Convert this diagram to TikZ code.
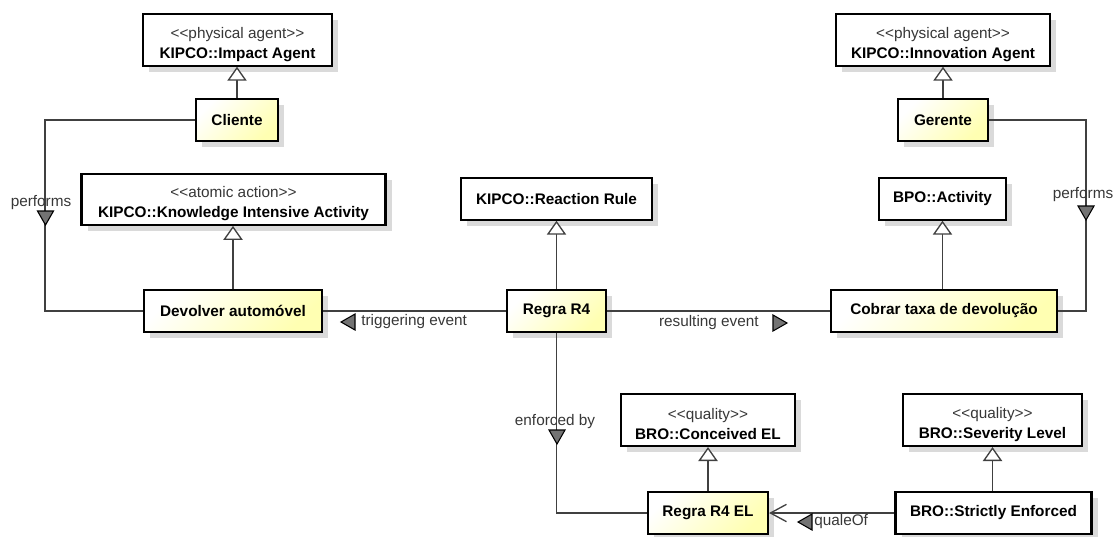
\documentclass[tikz,border=0pt]{standalone}
\usepackage{fontspec}
\setmainfont{Liberation Sans}
\usepackage{tikz}
\usetikzlibrary{arrows.meta,positioning,calc,shadows}
\definecolor{inscolor}{RGB}{255,255,178}
\definecolor{lncolor}{RGB}{64,64,64}
\definecolor{stcolor}{RGB}{55,55,55}
\definecolor{shdcolor}{RGB}{218,218,218}
\tikzset{
  boxsh/.style={drop shadow={shadow xshift=4.5pt, shadow yshift=-4.5pt, fill=shdcolor, opacity=1}},
  clsbox/.style={draw=black, line width=1.6pt, fill=white, boxsh, align=center, inner sep=2pt,
    font=\fontsize{11.5}{15}\selectfont\bfseries},
  insbox/.style={clsbox, top color=white, bottom color=inscolor, shading angle=45},
  genln/.style={-{Triangle[length=10.5pt,width=14.5pt,fill=white]}, line width=1pt, draw=lncolor},
  assocln/.style={line width=1pt, draw=lncolor},
  qualeln/.style={assocln, -{Straight Barb[length=12pt,width=13pt]}},
  lbl/.style={text=stcolor, inner sep=0pt, font=\fontsize{11.5}{14}\selectfont},
  markfill/.style={fill=black!55, draw=black, line width=0.8pt},
}
\newcommand{\stereo}[1]{\rule{0pt}{14.5pt}{\mdseries\color{stcolor}<{}<#1>{}>}}
\newcommand{\dirmark}[2]{%
  \filldraw[markfill, shift={(#2)}, rotate=#1] (7,0) -- (-7,-8) -- (-7,8) -- cycle;
}

\begin{document}
\begin{tikzpicture}[x=0.75pt, y=-0.75pt]
    \useasboundingbox (0,0) rectangle (1116,536);
    % left column
    \node[clsbox, minimum width=141.5pt, minimum height=38.5pt] (impact) at (237.5,40)
      {\stereo{physical agent}\\KIPCO::Impact Agent};
    \node[insbox, minimum width=61pt, minimum height=31pt] (cliente) at (237,120) {Cliente};
    \node[clsbox, minimum width=228pt, minimum height=38pt] (kia) at (233.5,199.5)
      {\stereo{atomic action}\\KIPCO::Knowledge Intensive Activity};
    \node[insbox, minimum width=133pt, minimum height=31pt] (devolver) at (233,311) {Devolver automóvel};
    % middle column
    \node[clsbox, minimum width=143pt, minimum height=31pt] (reaction) at (556.5,199) {KIPCO::Reaction Rule};
    \node[insbox, minimum width=74pt, minimum height=31pt] (regra) at (556.5,311) {Regra R4};
    % right column
    \node[clsbox, minimum width=160pt, minimum height=38.5pt] (innov) at (943,40)
      {\stereo{physical agent}\\KIPCO::Innovation Agent};
    \node[insbox, minimum width=67pt, minimum height=31pt] (gerente) at (943,120) {Gerente};
    \node[clsbox, minimum width=95pt, minimum height=31pt] (activity) at (942.5,199) {BPO::Activity};
    \node[insbox, minimum width=169pt, minimum height=31pt] (cobrar) at (944,311) {Cobrar taxa de devolução};
    % enforcement level
    \node[clsbox, minimum width=130pt, minimum height=39pt] (conceived) at (708,420)
      {\stereo{quality}\\BRO::Conceived EL};
    \node[clsbox, minimum width=134pt, minimum height=39pt] (severity) at (992.5,420)
      {\stereo{quality}\\BRO::Severity Level};
    \node[insbox, minimum width=90pt, minimum height=31pt] (r4el) at (708,513) {Regra R4 EL};
    \node[clsbox, minimum width=147pt, minimum height=31pt] (strictly) at (993.5,513) {BRO::Strictly Enforced};

    % generalizations
    \draw[genln] (cliente.north) -- (cliente.north |- impact.south);
    \draw[genln] (devolver.north) -- (devolver.north |- kia.south);
    \draw[genln] (regra.north) -- (regra.north |- reaction.south);
    \draw[genln] (gerente.north) -- (gerente.north |- innov.south);
    \draw[genln] (cobrar.north -| activity.south) -- (activity.south);
    \draw[genln] (r4el.north) -- (r4el.north |- conceived.south);
    \draw[genln] (strictly.north -| severity.south) -- (severity.south);

    % associations
    \coordinate (perfL) at (45,120);
    \coordinate (perfR) at (1086,120);
    \draw[assocln] (cliente.west) -- (perfL) |- (devolver.west);
    \draw[assocln] (gerente.east) -- (perfR) |- (cobrar.east);
    \draw[assocln] (devolver.east) -- (regra.west);
    \draw[assocln] (regra.east) -- (cobrar.west);
    \draw[assocln] (regra.south) |- (r4el.west);
    \draw[qualeln] (strictly.west) -- (r4el.east);

    % reading direction marks and labels
    \coordinate (mkPerfL) at (45.5,218);
    \coordinate (mkPerfR) at (1086,213);
    \coordinate (mkTrig) at (348,322);
    \coordinate (mkRes) at (780,323);
    \coordinate (mkEnf) at (557,437);
    \coordinate (mkQual) at (805,522);
    \dirmark{-90}{mkPerfL}
    \dirmark{-90}{mkPerfR}
    \dirmark{180}{mkTrig}
    \dirmark{0}{mkRes}
    \dirmark{-90}{mkEnf}
    \dirmark{180}{mkQual}
    \node[lbl] (lblPerfL) at (41,203) {performs};
    \node[lbl] (lblPerfR) at (1083,195) {performs};
    \node[lbl, anchor=west] (lblTrig) at (361,322) {triggering event};
    \node[lbl, anchor=east] (lblRes) at (759,323) {resulting event};
    \node[lbl] (lblEnf) at (555,422) {enforced by};
    \node[lbl, anchor=west] (lblQual) at (814,522) {qualeOf};
\end{tikzpicture}
\end{document}
